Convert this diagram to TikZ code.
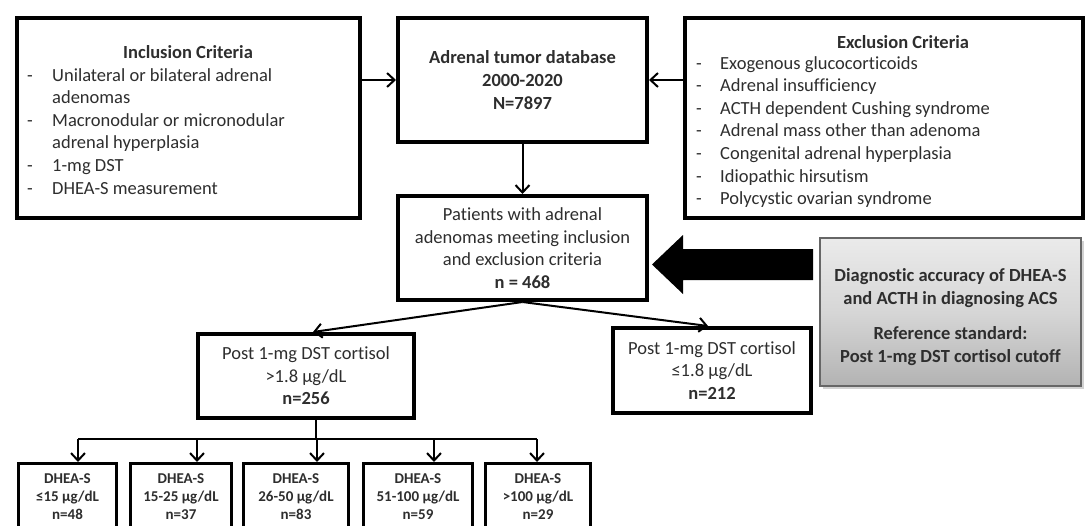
\documentclass[tikz,border=0pt]{standalone}
\usepackage{fontspec}
\setmainfont{Carlito}[Ligatures=NoCommon]
\usetikzlibrary{arrows.meta,shadows}
\definecolor{txt}{HTML}{2E2E2E}
\newcommand\mainfs{\fontsize{18.5}{22.6}\selectfont}
\newcommand\smallfs{\fontsize{15}{18}\selectfont}
\begin{document}
\begin{tikzpicture}[x=1pt,y=-1pt,
  box/.style={draw=black, line width=4pt, fill=white, inner sep=0pt, align=center, text=txt, font=\mainfs},
  dbox/.style={draw=black, line width=3pt, fill=white, inner sep=0pt, align=center, text=txt, font=\smallfs\bfseries},
  graybox/.style={draw=black!60, line width=1.2pt, top color=black!8, bottom color=black!30, middle color=black!16, inner sep=0pt, drop shadow={shadow xshift=3pt, shadow yshift=-3pt, opacity=0.35}},
  graytext/.style={align=center, text=txt, font=\mainfs\bfseries, inner sep=0pt},
  ttl/.style={font=\mainfs\bfseries, text=txt, anchor=base, inner sep=0pt},
  lst/.style={font=\mainfs, text=txt, anchor=base west, inner sep=0pt},
  arr/.style={line width=2pt, -{Straight Barb[length=7.5pt,width=14pt]}},
  ln/.style={line width=2pt},
]
\useasboundingbox (0,0) rectangle (1091,525);
\clip (0,0) rectangle (1091,525);
\fill[white] (0,0) rectangle (1091,525);

% top row
\node[box, minimum width=343pt, minimum height=200pt] (incl) at (188.5,118) {};
\node[ttl] (inclt) at (188,58) {Inclusion Criteria};
\node[lst] (incll) at (27,81) {\begin{tabular}[t]{@{}p{25pt}@{}l@{}}
-&Unilateral or bilateral adrenal\\
&adenomas\\
-&Macronodular or micronodular\\
&adrenal hyperplasia\\
-&1-mg DST\\
-&DHEA-S measurement
\end{tabular}};

\node[box, font=\mainfs\bfseries, minimum width=249pt, minimum height=124pt] (db) at (522.5,80) {Adrenal tumor database\\2000-2020\\N=7897};

\node[box, minimum width=398pt, minimum height=200pt] (excl) at (884,118) {};
\node[ttl] (exclt) at (903,48) {Exclusion Criteria};
\node[lst] (excll) at (696,69) {\begin{tabular}[t]{@{}p{24pt}@{}l@{}}
-&Exogenous glucocorticoids\\
-&Adrenal insufficiency\\
-&ACTH dependent Cushing syndrome\\
-&Adrenal mass other than adenoma\\
-&Congenital adrenal hyperplasia\\
-&Idiopathic hirsutism\\
-&Polycystic ovarian syndrome
\end{tabular}};

% middle
\node[box, minimum width=249pt, minimum height=104pt] (pat) at (522.5,248) {Patients with adrenal\\adenomas meeting inclusion\\and exclusion criteria\\\textbf{n = 468}};

\node[graybox, minimum width=261pt, minimum height=148pt] (gray) at (950.5,312) {};
\node[graytext] (grayt) at (950.5,317) {Diagnostic accuracy of DHEA-S\\and ACTH in diagnosing ACS\\[13pt]Reference standard:\\Post 1-mg DST cortisol cutoff};

\node[box, minimum width=216pt, minimum height=84pt] (lft) at (306,376) {Post 1-mg DST cortisol\\>1.8 μg/dL\\\textbf{n=256}};
\node[box, minimum width=198pt, minimum height=85pt] (rgt) at (712,370.5) {Post 1-mg DST cortisol\\≤1.8 μg/dL\\\textbf{n=212}};

% bottom row
\node[dbox, minimum width=98pt, minimum height=66pt] (d1) at (67.5,496.5) {DHEA-S\\≤15 μg/dL\\n=48};
\node[dbox, minimum width=101pt, minimum height=66pt] (d2) at (181,496.5) {DHEA-S\\15-25 μg/dL\\n=37};
\node[dbox, minimum width=105pt, minimum height=66pt] (d3) at (296,496.5) {DHEA-S\\26-50 μg/dL\\n=83};
\node[dbox, minimum width=109pt, minimum height=66pt] (d4) at (418,496.5) {DHEA-S\\51-100 μg/dL\\n=59};
\node[dbox, minimum width=105pt, minimum height=66pt] (d5) at (538,496.5) {DHEA-S\\>100 μg/dL\\n=29};

% connectors
\draw[arr] (incl.east |- db.west) -- (db.west);
\draw[arr] (excl.west |- db.east) -- (db.east);
\draw[arr] (db.south) -- (pat.north);
\draw[arr] (pat.south) -- (313,0 |- lft.north);
\draw[arr] (pat.south) -- (708,0 |- rgt.north);

% big black arrow
\coordinate (bigtail) at (813,264.5);
\coordinate (bigtip) at (652,264.5);
\fill[black] (bigtail) ++(0,-15.5) -- (683,249) -- (683,235) -- (bigtip) -- (683,294) -- (683,280) -- (813,280) -- cycle;

% tree
\coordinate (jn) at (316,439);
\draw[ln] (316,0 |- lft.south) -- (jn);
\draw[ln] (78,439) -- (537,439);
\coordinate (t1) at (78,439);
\coordinate (t2) at (197,439);
\coordinate (t3) at (317,439);
\coordinate (t4) at (434,439);
\coordinate (t5) at (537,439);
\draw[arr] (t1) -- (t1 |- d1.north);
\draw[arr] (t2) -- (t2 |- d2.north);
\draw[arr] (t3) -- (t3 |- d3.north);
\draw[arr] (t4) -- (t4 |- d4.north);
\draw[arr] (t5) -- (t5 |- d5.north);
\end{tikzpicture}
\end{document}
